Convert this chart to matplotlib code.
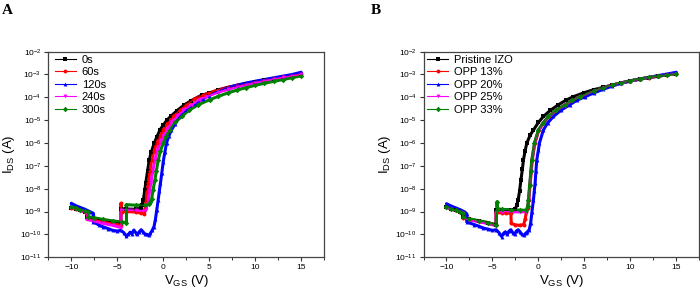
import matplotlib
matplotlib.use("Agg")
import matplotlib.pyplot as plt
from matplotlib.ticker import LogLocator, NullLocator, MultipleLocator

plt.rcParams['font.family'] = ['Liberation Sans', 'DejaVu Sans']
plt.rcParams['mathtext.fontset'] = 'custom'
plt.rcParams['mathtext.rm'] = 'Liberation Sans'
plt.rcParams['mathtext.default'] = 'regular'

# ---- panel A: exposure time ----
a_0s_v = [-10, -9.5, -9, -8.5, -8.3, -8.3, -7.5, -6.5, -5.5, -4.6, -4.6, -4.0, -3.0, -2.4, -2.3,
          -2.16, -2.0, -1.9, -1.7, -1.52, -1.3, -0.97, -0.7, -0.36, 0, 0.4, 0.8, 1.5, 2.3, 3.0,
          4.2, 5, 6, 7, 8, 9, 10, 11, 12, 13, 14, 15]
a_0s_i = [1.5e-9, 1.3e-9, 1.15e-9, 1.0e-9, 9.5e-10, 5.5e-10, 4.8e-10, 4.0e-10, 3.4e-10, 3.0e-10,
          1.3e-9, 1.3e-9, 1.25e-9, 1.4e-9, 2.0e-9, 3.2e-9, 9e-9, 1.74e-8, 6e-8, 1.8e-7,
          4e-7, 1.0e-6, 1.8e-6, 3.7e-6, 6e-6, 1.0e-5, 1.45e-5, 2.6e-5, 4.7e-5, 7e-5,
          1.26e-4, 1.5e-4, 2.1e-4, 2.65e-4, 3.25e-4, 3.95e-4, 4.75e-4, 5.65e-4, 6.6e-4, 7.7e-4,
          8.9e-4, 1.04e-3]

a_60s_v = [-10, -9.5, -9, -8.5, -8.3, -8.3, -7.5, -6.5, -5.5, -4.6, -4.6, -4.5, -4.0, -3.0, -2.4,
           -2.05, -1.95, -1.88, -1.75, -1.63, -1.45, -1.26, -1.0, -0.7, -0.35, 0, 0.5, 1.1, 1.8, 2.5,
           3.4, 4.35, 5, 6, 7, 8, 9, 10, 11, 12, 13, 14, 15]
a_60s_i = [1.5e-9, 1.3e-9, 1.15e-9, 1.0e-9, 9.5e-10, 5e-10, 4.5e-10, 3.7e-10, 3.1e-10, 2.7e-10,
           2.3e-9, 1.0e-9, 1.0e-9, 9.5e-10, 8.5e-10, 8e-10, 1.5e-9, 3.2e-9, 8e-9, 1.74e-8,
           6e-8, 1.8e-7, 4.5e-7, 1.0e-6, 2.0e-6, 3.7e-6, 7.5e-6, 1.45e-5, 2.8e-5, 4.7e-5,
           8.5e-5, 1.26e-4, 1.55e-4, 2.15e-4, 2.7e-4, 3.3e-4, 4.0e-4, 4.8e-4, 5.7e-4, 6.7e-4,
           7.8e-4, 9.0e-4, 1.05e-3]

a_120s_v = [-10, -9.5, -9, -8.5, -8, -7.6, -7.6, -7, -6.5, -6, -5.5, -5, -4.6, -4.3, -4.0, -3.8,
            -3.6, -3.4, -3.2, -3.0, -2.8, -2.6, -2.4, -2.2, -2.0, -1.8, -1.6, -1.4, -1.2, -1.0,
            -0.85, -0.7, -0.55, -0.42, -0.3, -0.15, 0, 0.18, 0.36, 0.6, 0.9, 1.3, 1.8, 2.5, 3.45,
            4.3, 5, 6, 7, 8, 9, 10, 11, 12, 13, 14, 15]
a_120s_i = [2.3e-9, 1.8e-9, 1.5e-9, 1.25e-9, 1.0e-9, 8.3e-10, 3.5e-10, 2.6e-10, 2.1e-10, 1.8e-10,
            1.5e-10, 1.4e-10, 1.5e-10, 1.2e-10, 8.5e-11, 1.0e-10, 1.25e-10, 1.05e-10, 1.55e-10, 1.2e-10,
            1.05e-10, 1.3e-10, 1.6e-10, 1.3e-10, 1.05e-10, 1.0e-10, 9e-11, 1.1e-10, 1.5e-10, 2.2e-10,
            4.5e-10, 1.2e-9, 3.2e-9, 8e-9, 1.74e-8, 5e-8, 1.5e-7, 4e-7, 1.0e-6, 2.0e-6,
            3.7e-6, 7e-6, 1.45e-5, 2.8e-5, 5e-5, 8.5e-5, 1.2e-4, 1.9e-4, 2.65e-4, 3.4e-4,
            4.2e-4, 5.05e-4, 6.0e-4, 7.1e-4, 8.4e-4, 9.9e-4, 1.25e-3]

a_240s_v = [-10, -9.5, -9, -8.5, -8.3, -8.3, -7.5, -6.5, -5.5, -4.6, -4.6, -4.0, -3.0, -2.2, -1.9,
            -1.75, -1.63, -1.5, -1.35, -1.15, -0.9, -0.65, -0.36, 0, 0.36, 0.9, 1.45, 2.2, 3.1, 4.0,
            4.7, 6, 7, 8, 9, 10, 11, 12, 13, 14, 15]
a_240s_i = [1.4e-9, 1.25e-9, 1.1e-9, 9.5e-10, 9e-10, 4.5e-10, 3.8e-10, 3.0e-10, 2.5e-10, 2.0e-10,
            1.2e-9, 1.2e-9, 1.15e-9, 1.1e-9, 1.2e-9, 2e-9, 3.2e-9, 7e-9, 1.74e-8, 5.5e-8,
            1.8e-7, 4.5e-7, 1.0e-6, 2.0e-6, 3.7e-6, 8e-6, 1.45e-5, 2.7e-5, 4.7e-5, 8e-5,
            1.07e-4, 1.7e-4, 2.2e-4, 2.85e-4, 3.55e-4, 4.4e-4, 5.3e-4, 6.3e-4, 7.4e-4, 8.6e-4,
            1.0e-3]

a_300s_v = [-10, -9.5, -9, -8.5, -8.2, -8.2, -7.5, -6.5, -5.5, -4.5, -4.0, -4.0, -3.0, -2.0, -1.6,
            -1.45, -1.26, -1.1, -0.9, -0.75, -0.54, -0.3, 0, 0.35, 0.72, 1.3, 2.0, 2.8, 3.8, 5.1,
            6, 7, 8, 9, 10, 11, 12, 13, 14, 15]
a_300s_i = [1.6e-9, 1.4e-9, 1.2e-9, 1.05e-9, 9.5e-10, 6e-10, 5.3e-10, 4.5e-10, 3.9e-10, 3.5e-10,
            3.2e-10, 2.0e-9, 1.9e-9, 1.9e-9, 2.1e-9, 2.6e-9, 3.5e-9, 9e-9, 2.5e-8, 6e-8,
            1.8e-7, 4.5e-7, 1.0e-6, 2.0e-6, 3.7e-6, 8e-6, 1.45e-5, 2.7e-5, 4.7e-5, 8e-5,
            1.1e-4, 1.55e-4, 2.05e-4, 2.65e-4, 3.35e-4, 4.1e-4, 4.95e-4, 5.95e-4, 7.2e-4, 8.7e-4]

# ---- panel B: OPP content ----
b_pri_v = [-10, -9.5, -9, -8.5, -8.2, -8.2, -7.5, -6.5, -5.5, -4.6, -4.6, -4.0, -3.0, -2.5, -2.35,
           -2.2, -2.05, -1.9, -1.75, -1.63, -1.45, -1.26, -0.9, -0.54, 0, 0.54, 1.3, 2.17, 3.0, 3.8,
           5, 6, 7, 8, 9, 10, 11, 12, 13, 14, 15]
b_pri_i = [1.6e-9, 1.35e-9, 1.15e-9, 1.0e-9, 9e-10, 5.5e-10, 4.6e-10, 3.8e-10, 3.2e-10, 2.6e-10,
           1.2e-9, 1.2e-9, 1.15e-9, 1.3e-9, 2.0e-9, 3.2e-9, 8e-9, 2.4e-8, 7e-8, 1.8e-7,
           4.5e-7, 1.0e-6, 2.2e-6, 3.7e-6, 8e-6, 1.45e-5, 2.7e-5, 4.7e-5, 7.5e-5, 1.07e-4,
           1.6e-4, 2.15e-4, 2.7e-4, 3.4e-4, 4.25e-4, 5.2e-4, 6.2e-4, 7.3e-4, 8.4e-4, 9.6e-4,
           1.08e-3]

b_13_v = [-10, -9.5, -9, -8.5, -8.2, -8.2, -7.5, -6.5, -5.5, -4.6, -4.6, -4.0, -3.5, -3.0, -2.95,
          -2.5, -2.0, -1.6, -1.45, -1.3, -1.15, -1.04, -0.9, -0.77, -0.67, -0.38, 0.05, 0.55, 1.14, 1.95,
          2.95, 3.75, 4.55, 6, 7, 8, 9, 10, 11, 12, 13, 14, 15]
b_13_i = [1.55e-9, 1.3e-9, 1.12e-9, 9.8e-10, 8.8e-10, 5.3e-10, 4.5e-10, 3.7e-10, 3.1e-10, 2.5e-10,
          9e-10, 8.8e-10, 8.6e-10, 8.5e-10, 3e-10, 2.6e-10, 2.5e-10, 2.7e-10, 4.5e-10, 1.0e-9,
          1.5e-9, 3.2e-9, 1.5e-8, 6e-8, 1.8e-7, 1.0e-6, 3.7e-6, 7.5e-6, 1.45e-5, 2.7e-5,
          4.7e-5, 7.5e-5, 1.07e-4, 1.9e-4, 2.55e-4, 3.35e-4, 4.25e-4, 5.2e-4, 6.2e-4, 7.3e-4,
          8.4e-4, 9.6e-4, 1.09e-3]

b_20_v = [-10, -9.5, -9, -8.5, -8, -7.8, -7.8, -7, -6.5, -6, -5.5, -5, -4.6, -4.3, -4.0, -3.8,
          -3.6, -3.4, -3.2, -3.0, -2.8, -2.6, -2.4, -2.2, -2.0, -1.8, -1.6, -1.4, -1.2, -1.0,
          -0.85, -0.7, -0.54, -0.45, -0.36, -0.27, -0.18, 0, 0.11, 0.54, 1.0, 1.63, 2.5, 3.4, 4.2,
          5.1, 6, 7, 8, 9, 10, 11, 12, 13, 14, 15]
b_20_i = [2.2e-9, 1.75e-9, 1.45e-9, 1.2e-9, 9.5e-10, 8e-10, 3.5e-10, 2.7e-10, 2.3e-10, 1.9e-10,
          1.7e-10, 1.5e-10, 1.6e-10, 1.2e-10, 8e-11, 1.1e-10, 1.3e-10, 1.0e-10, 1.4e-10, 1.6e-10,
          1.2e-10, 1.0e-10, 1.4e-10, 1.6e-10, 1.3e-10, 1.0e-10, 9e-11, 1.1e-10, 1.3e-10, 1.6e-10,
          3e-10, 1.0e-9, 3.2e-9, 8e-9, 1.74e-8, 6e-8, 1.8e-7, 5e-7, 1.0e-6, 3.7e-6,
          7.5e-6, 1.45e-5, 2.8e-5, 4.7e-5, 7.5e-5, 1.07e-4, 1.55e-4, 2.2e-4, 3.1e-4, 4.1e-4,
          5.2e-4, 6.3e-4, 7.5e-4, 8.9e-4, 1.05e-3, 1.25e-3]

b_25_v = [-10, -9.5, -9, -8.5, -8.2, -8.2, -7.5, -6.5, -5.5, -4.6, -4.6, -4.0, -3.0, -2.0, -1.3,
          -1.15, -1.07, -0.93, -0.8, -0.7, -0.41, 0.02, 0.52, 1.11, 1.92, 2.92, 3.72, 4.52, 6, 7,
          8, 9, 10, 11, 12, 13, 14, 15]
b_25_i = [1.5e-9, 1.28e-9, 1.1e-9, 9.6e-10, 8.6e-10, 5.2e-10, 4.4e-10, 3.6e-10, 3.0e-10, 2.4e-10,
          1.0e-9, 1.0e-9, 9.8e-10, 9.6e-10, 1.0e-9, 1.6e-9, 3.2e-9, 1.5e-8, 6e-8, 1.8e-7,
          1.0e-6, 3.7e-6, 7.5e-6, 1.45e-5, 2.7e-5, 4.7e-5, 7.5e-5, 1.07e-4, 1.92e-4, 2.58e-4,
          3.38e-4, 4.28e-4, 5.25e-4, 6.25e-4, 7.35e-4, 8.45e-4, 9.65e-4, 1.1e-3]

b_33_v = [-10, -9.5, -9, -8.5, -8.2, -8.2, -7.5, -6.5, -5.5, -4.6, -4.5, -4.45, -4.0, -3.0, -2.0,
          -1.3, -1.17, -1.09, -0.95, -0.82, -0.72, -0.43, 0, 0.5, 1.09, 1.9, 2.9, 3.7, 4.5, 6,
          7, 8, 9, 10, 11, 12, 13, 14, 15]
b_33_i = [1.6e-9, 1.35e-9, 1.15e-9, 1.0e-9, 9e-10, 5.6e-10, 4.8e-10, 4.0e-10, 3.3e-10, 2.6e-10,
          2.7e-9, 1.3e-9, 1.25e-9, 1.2e-9, 1.15e-9, 1.15e-9, 1.7e-9, 3.2e-9, 1.5e-8, 6e-8,
          1.8e-7, 1.0e-6, 3.7e-6, 7.5e-6, 1.45e-5, 2.7e-5, 4.7e-5, 7.5e-5, 1.07e-4, 1.95e-4,
          2.6e-4, 3.4e-4, 4.3e-4, 5.3e-4, 6.3e-4, 7.4e-4, 8.5e-4, 9.7e-4, 1.1e-3]

colors = ['#000000', '#ff0000', '#0000ff', '#ff00ff', '#008000']
markers = ['s', 'o', '^', 'v', 'D']

labels_a = ['0s', '60s', '120s', '240s', '300s']
series_a = [(a_0s_v, a_0s_i), (a_60s_v, a_60s_i), (a_120s_v, a_120s_i),
            (a_240s_v, a_240s_i), (a_300s_v, a_300s_i)]
labels_b = ['Pristine IZO', 'OPP 13%', 'OPP 20%', 'OPP 25%', 'OPP 33%']
series_b = [(b_pri_v, b_pri_i), (b_13_v, b_13_i), (b_20_v, b_20_i),
            (b_25_v, b_25_i), (b_33_v, b_33_i)]


def draw_panel(ax, series, labels, leg_anchor):
    for (v, i), lab, c, m in zip(series, labels, colors, markers):
        # thick underlay to mimic the dense marker band
        ax.plot(v, i, color=c, lw=2.2, solid_capstyle='round', zorder=2)
        ax.plot(v, i, color=c, lw=0.8, marker=m, ms=2.8, mew=0, label=lab, zorder=3)
    ax.set_yscale('log')
    ax.set_ylim(1e-11, 1e-2)
    ax.set_xlim(-12.5, 17.5)
    ax.set_xticks([-10, -5, 0, 5, 10, 15])
    ax.xaxis.set_minor_locator(MultipleLocator(2.5))
    ax.yaxis.set_major_locator(LogLocator(base=10, numticks=15))
    ax.yaxis.set_minor_locator(NullLocator())
    ax.tick_params(which='major', direction='out', length=3, width=0.8,
                   labelsize=6, color='#333333', pad=2)
    ax.tick_params(which='minor', direction='out', length=2, width=0.7, color='#333333')
    for s in ax.spines.values():
        s.set_linewidth(0.9)
        s.set_color('#444444')
    ax.set_xlabel('V$_{GS}$ (V)', fontsize=9.5, labelpad=1)
    ax.set_ylabel('I$_{DS}$ (A)', fontsize=9.5, labelpad=2)
    ax.legend(loc='upper left', bbox_to_anchor=leg_anchor, frameon=False, fontsize=8,
              handlelength=1.9, handletextpad=0.5, labelspacing=0.22, borderpad=0.1,
              borderaxespad=0)


fig = plt.figure(figsize=(7, 2.95), dpi=100)
ax_a = fig.add_axes([0.069, 0.128, 0.394, 0.697])
ax_b = fig.add_axes([0.605, 0.128, 0.394, 0.697])

draw_panel(ax_a, series_a, labels_a, (0.02, 0.99))
draw_panel(ax_b, series_b, labels_b, (0.01, 0.99))

fig.text(0.003, 0.985, 'A', fontsize=11, fontweight='bold', family='Liberation Serif', va='top')
fig.text(0.530, 0.985, 'B', fontsize=11, fontweight='bold', family='Liberation Serif', va='top')

fig.savefig('out.png', dpi=100)
